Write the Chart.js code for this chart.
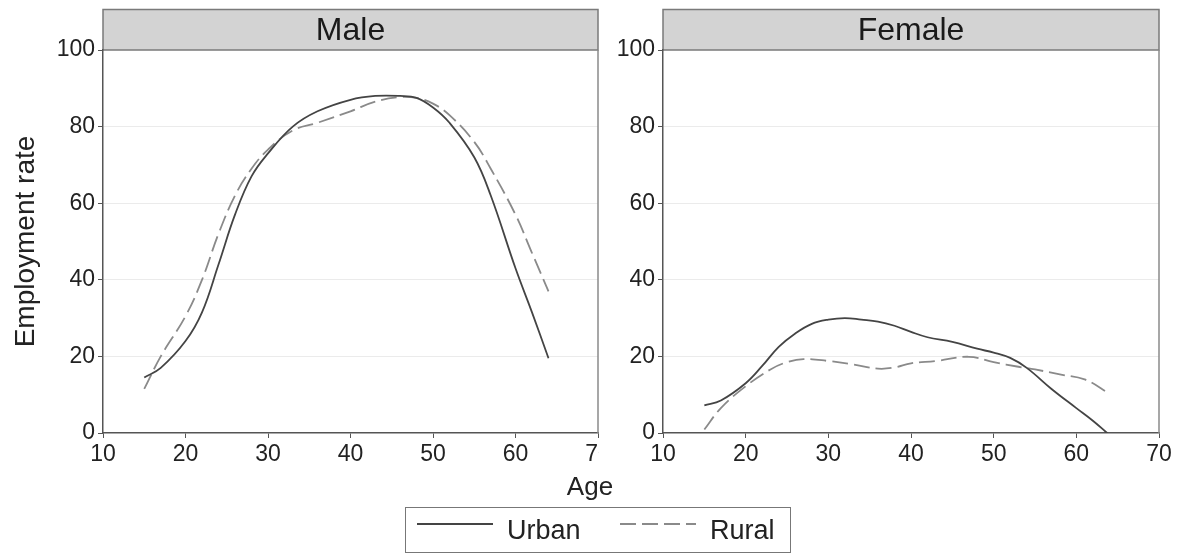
<!DOCTYPE html>
<html>
<head>
<meta charset="utf-8">
<script src="https://cdn.jsdelivr.net/npm/chart.js@4.4.1/dist/chart.umd.min.js"></script>
<style>
  html, body { margin: 0; padding: 0; background: #fff; }
  body { width: 1181px; height: 556px; position: relative; overflow: hidden;
         font-family: "Liberation Sans", Arial, Helvetica, sans-serif; color: #222; }
  .panel { position: absolute; top: 0; overflow: hidden; }
  #wrapMale { left: 0; width: 599px; height: 475px; }
  #wrapFemale { left: 598px; width: 583px; height: 475px; }
  #xTitle { position: absolute; left: 540px; width: 100px; top: 471px; text-align: center; font-size: 26px; }
  #legend { position: absolute; left: 405px; top: 507px; width: 386px; height: 46px;
            border: 1.5px solid #777; box-sizing: border-box; font-size: 27px; }
  #legend .item { position: absolute; top: 6px; height: 32px; line-height: 32px; }
  #legend svg { position: absolute; top: 14px; }
</style>
</head>
<body>
<div class="panel" id="wrapMale"><canvas id="male" width="620" height="475"></canvas></div>
<div class="panel" id="wrapFemale"><canvas id="female" width="583" height="475"></canvas></div>
<div id="xTitle">Age</div>
<div id="legend">
  <svg style="left:11px" width="76" height="4"><line x1="0" y1="2" x2="76" y2="2" stroke="#444" stroke-width="2"/></svg>
  <div class="item" style="left:101px;">Urban</div>
  <svg style="left:214px" width="76" height="4"><line x1="0" y1="2" x2="76" y2="2" stroke="#8a8a8a" stroke-width="2" stroke-dasharray="16 6"/></svg>
  <div class="item" style="left:304px;">Rural</div>
</div>
<script>
// smoothed employment rate by age, per sex and area
const maleAges = [15, 17, 20, 22, 24, 26, 28, 30, 33, 36, 40, 43, 46, 48, 50, 52, 55, 57, 60, 62, 64];
const maleUrban = [14.5, 17, 24, 31.5, 44, 57, 67, 73, 80, 84, 87, 88, 88, 87.5, 85, 81, 72, 62, 43, 31.5, 19.5];
const maleRural = [11.5, 20, 30.5, 40, 52, 62, 69, 74, 79, 81, 84, 86.5, 87.7, 87.5, 86, 83, 76, 69, 57, 47, 37];

const femaleUrbanAges = [15, 17, 20, 22, 24, 26, 28, 30, 32, 34, 36, 38, 40, 42, 45, 48, 50, 52, 54, 57, 60, 62, 64];
const femaleUrban = [7.2, 8.5, 13, 17.5, 22.5, 26, 28.5, 29.6, 30, 29.6, 29.1, 28, 26.4, 25, 23.8, 22, 21, 19.6, 17, 11.5, 6.5, 3.2, -0.5];
const femaleRuralAges = [15, 17, 20, 23, 25, 27, 30, 33, 36, 38, 40, 43, 47, 50, 53, 55, 58, 61, 64];
const femaleRural = [0.9, 6.5, 12.2, 16.6, 18.5, 19.3, 18.8, 17.9, 16.8, 17.1, 18.2, 18.8, 19.9, 18.5, 17.3, 16.6, 15.3, 14, 10.3];

const yTicks = [0, 20, 40, 60, 80, 100];
const xTicks = [10, 20, 30, 40, 50, 60, 70];

const FONT = '"Liberation Sans", Arial, Helvetica, sans-serif';

function pts(xs, ys) {
    return xs.map((x, i) => ({ x: x, y: ys[i] }));
}

/* grey strip with the panel name, plus the light frame round the plot */
const stripPlugin = {
    id: 'strip',
    beforeDraw(chart, args, opts) {
        const a = chart.chartArea, ctx = chart.ctx;
        ctx.save();
        ctx.fillStyle = '#d3d3d3';
        ctx.fillRect(a.left, 9.5, a.right - a.left, a.top - 9.5);
        ctx.strokeStyle = '#7a7a7a';
        ctx.lineWidth = 1.5;
        ctx.strokeRect(a.left, 9.5, a.right - a.left, a.top - 9.5);
        ctx.fillStyle = '#1a1a1a';
        ctx.font = '32px ' + FONT;
        ctx.textAlign = 'center';
        ctx.textBaseline = 'middle';
        ctx.fillText(opts.text, (a.left + a.right) / 2, (9.5 + a.top) / 2 + 1);
        ctx.restore();
    },
    afterDraw(chart) {
        const a = chart.chartArea, ctx = chart.ctx;
        ctx.save();
        ctx.strokeStyle = '#8a8a8a';
        ctx.lineWidth = 1.5;
        ctx.beginPath();
        ctx.moveTo(a.right, a.top);
        ctx.lineTo(a.right, a.bottom);
        ctx.stroke();
        ctx.restore();
    }
};

function makeChart(id, title, urban, rural, yWidth, showYTitle) {
    return new Chart(document.getElementById(id), {
        type: 'scatter',
        data: {
            datasets: [
                { label: 'Urban', data: urban, showLine: true, borderColor: '#444', borderWidth: 1.8,
                  pointRadius: 0, tension: 0.4 },
                { label: 'Rural', data: rural, showLine: true, borderColor: '#8a8a8a', borderWidth: 1.8,
                  borderDash: [16, 6], pointRadius: 0, tension: 0.4 }
            ]
        },
        options: {
            responsive: false,
            animation: false,
            layout: { padding: { top: 50, right: 22, left: 0, bottom: 0 } },
            plugins: {
                legend: { display: false },
                tooltip: { enabled: false },
                strip: { text: title }
            },
            scales: {
                x: {
                    type: 'linear', min: 10, max: 70,
                    afterBuildTicks: s => { s.ticks = xTicks.map(v => ({ value: v })); },
                    afterFit: s => { s.height = 42; },
                    border: { color: '#555', width: 1.5 },
                    grid: { drawOnChartArea: false, tickLength: 5, tickColor: '#555' },
                    ticks: { color: '#222', padding: 3, maxRotation: 0, font: { family: FONT, size: 23 } }
                },
                y: {
                    min: 0, max: 100,
                    afterBuildTicks: s => { s.ticks = yTicks.map(v => ({ value: v })); },
                    afterFit: s => { s.width = yWidth; },
                    border: { color: '#555', width: 1.5 },
                    grid: {
                        tickLength: 5,
                        tickColor: '#555',
                        color: c => (c.tick.value === 0 || c.tick.value === 100) ? 'rgba(0,0,0,0)' : '#ebebeb'
                    },
                    ticks: { color: '#222', padding: 3, font: { family: FONT, size: 23 } },
                    title: {
                        display: showYTitle, text: 'Employment rate', color: '#222',
                        padding: { top: 9, bottom: 0 },
                        font: { family: FONT, size: 28 }
                    }
                }
            }
        },
        plugins: [stripPlugin]
    });
}

makeChart('male', 'Male', pts(maleAges, maleUrban), pts(maleAges, maleRural), 103, true);
makeChart('female', 'Female', pts(femaleUrbanAges, femaleUrban), pts(femaleRuralAges, femaleRural), 65, false);
</script>
</body>
</html>
